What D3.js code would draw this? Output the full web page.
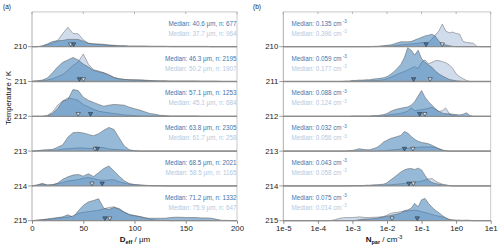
<!DOCTYPE html>
<html><head><meta charset="utf-8">
<script src="https://cdn.jsdelivr.net/npm/d3@7"></script>
<style>body{margin:0;background:#fff} svg{font-family:"Liberation Sans",Arial,sans-serif}</style>
</head><body>
<svg id="c" width="500" height="251"></svg>
<script>
// ---------- data ----------
const temperatures = ["210","211","212","213","214","215"];
const dTicks = [0,50,100,150,200];
const nTicks = [1e-5,1e-4,1e-3,1e-2,1e-1,1e0,1e1];
const nTickLabels = ["1e-5","1e-4","1e-3","1e-2","1e-1","1e0","1e1"];
// D_eff grid (µm), step 5
const dGrid = [0,5,10,15,20,25,30,35,40,45,50,55,60,65,70,75,80,85,90,95,100,105,110,115,120,125,130,135,140,145,150,155,160,165,170,175,180,185,190,195,200];
// N_par grid exponents (log10 cm^-3), step 0.1
const nExp = d3.range(61).map(i => -5 + i / 10);

const dMedDark  = [40.6,46.3,57.1,63.8,68.5,71.2];
const dNDark    = [677,2195,1253,2305,2021,1332];
const dMedLight = [37.7,50.2,45.1,61.7,58.5,75.9];
const dNLight   = [964,1907,684,258,1165,647];
const nMedDark  = [0.135,0.059,0.088,0.032,0.043,0.075];
const nMedLight = [0.396,0.177,0.124,0.056,0.058,0.014];

// densities in % of row height, D_eff panel
const dDark210 = [0,0,2,8,15,17,18,21,21,21, 16,10,8,8,7,5,4,3,3,2, 2,2,2,1,1,1,1,1,1,1, 1,1,1,1,1,0,0,0,0,0, 0];
const dLight210= [0,0,2,6,10,18,38,56,38,37, 20,10,8,6,5,4,3,2,2,1, 1,1,1,1,1,1,1,0,0,0, 0,0,0,0,0,0,0,0,0,0, 0];
const dDark211 = [1,2,4,10,25,42,55,62,69,62, 50,42,32,28,25,18,11,8,6,5, 5,5,4,3,2,2,2,1,1,1, 1,1,1,1,1,1,1,0,0,0, 0];
const dLight211= [0,1,2,4,8,14,20,32,46,56, 79,50,34,30,25,20,12,8,6,5, 4,3,3,2,2,1,1,1,1,1, 1,1,1,0,0,0,0,0,0,0, 0];
const dDark212 = [0,0,0,1,8,22,44,48,77,74, 55,46,40,34,29,32,34,33,32,26, 22,18,13,8,6,3,2,1,1,1, 1,1,1,0,0,0,0,0,0,0, 0];
const dLight212= [0,0,0,3,12,32,44,53,50,46, 34,27,20,15,12,10,8,6,4,3, 2,1,1,1,1,0,0,0,0,0, 0,0,0,0,0,0,0,0,0,0, 0];
const dDark213 = [0,1,2,3,5,11,18,40,53,54, 52,48,44,50,60,68,62,38,15,4, 1,0,0,0,0,0,0,0,0,0, 0,0,0,0,0,0,0,0,0,0, 0];
const dLight213= [0,1,3,4,2,3,6,7,8,9, 9,8,7,10,10,6,5,4,3,2, 1,0,0,0,0,0,0,0,0,0, 0,0,0,0,0,0,0,0,0,0, 0];
const dDark214 = [0,2,6,2,3,8,19,26,31,33, 28,35,27,38,50,57,43,28,15,7, 4,3,2,1,1,1,0,0,0,0, 0,0,0,0,0,0,0,0,0,0, 0];
const dLight214= [0,3,7,3,4,6,10,14,16,18, 22,24,21,17,16,17,18,12,8,5, 3,2,1,1,0,0,0,0,0,0, 0,0,0,0,0,0,0,0,0,0, 0];
const dDark215 = [0,1,3,5,7,9,11,17,10,28, 44,54,58,63,36,32,38,35,25,18, 15,12,8,7,7,7,7,9,10,10, 9,9,9,8,8,7,4,1,1,0, 0];
const dLight215= [0,2,3,4,5,7,9,10,14,21, 24,26,28,30,34,38,40,32,24,17, 14,12,9,4,2,1,1,0,0,0, 0,0,0,0,0,0,0,0,0,0, 0];

// densities in % of row height, N_par panel (exponent -5 .. 1, step 0.1)
const nDark210 = [0,0,0,0,0,0,0,0,0,0, 0,0,0,0,0,0,0,0,0,0, 0,0,0,0,0,0,1,1,2,3, 4,5,8,11,14,14,14,15,19,23, 27,31,33,36,30,16,8,5,3,1, 0,0,0,0,0,0,0,0,0,0, 0];
const nLight210= [0,0,0,0,0,0,0,0,0,0, 0,0,0,0,0,0,0,0,0,0, 0,0,0,0,0,0,0,0,1,1, 2,2,3,4,5,6,7,8,9,10, 12,12,13,22,34,45,65,45,40,42, 38,36,15,12,11,10,1,0,0,0, 0];
const nDark211 = [0,0,0,0,0,0,0,0,0,0, 0,0,0,0,0,0,0,0,1,1, 3,3,4,4,5,5,7,8,9,11, 14,20,28,38,49,68,97,90,76,90, 66,55,48,41,30,22,16,11,6,4, 2,1,0,0,0,0,0,0,0,0, 0];
const nLight211= [0,0,0,0,0,0,0,0,0,0, 0,0,0,0,0,0,0,0,0,0, 1,1,1,1,2,2,3,3,4,5, 8,12,16,21,25,29,33,38,43,37, 55,62,51,55,60,60,57,54,48,38, 22,14,8,3,0,0,0,0,0,0, 0];
const nDark212 = [0,0,0,0,0,0,0,0,0,0, 0,0,0,0,0,0,0,0,0,0, 1,1,1,1,1,1,2,2,3,5, 8,14,18,21,23,25,27,32,42,58, 74,55,42,32,22,14,9,7,7,6, 5,4,6,10,2,0,0,0,0,0, 0];
const nLight212= [0,0,0,0,0,0,0,0,0,0, 0,0,0,0,0,0,0,0,0,0, 0,0,0,0,0,0,0,0,1,1, 3,5,6,7,9,11,15,24,16,18, 19,21,23,26,20,14,16,24,8,3, 1,0,0,0,0,0,0,0,0,0, 0];
const nDark213 = [0,0,0,0,0,0,0,0,0,0, 0,0,0,0,0,0,0,0,0,1, 2,4,7,5,4,4,7,10,17,26, 31,36,39,42,45,56,52,42,34,28, 25,23,21,17,12,7,3,1,0,0, 0,0,0,0,0,0,0,0,0,0, 0];
const nLight213= [0,0,0,0,0,0,0,0,0,0, 0,0,0,0,0,0,0,0,0,0, 0,0,0,0,0,0,0,0,1,1, 2,3,4,5,6,7,8,9,10,11, 12,12,12,12,10,7,3,1,0,0, 0,0,0,0,0,0,0,0,0,0, 0];
const nDark214 = [0,0,0,0,0,0,0,0,0,0, 0,0,0,0,0,0,0,0,0,0, 1,1,1,1,2,2,3,3,4,5, 9,17,24,32,40,46,49,50,47,51, 46,30,16,10,7,5,3,2,1,0, 0,0,0,0,0,0,0,0,0,0, 0];
const nLight214= [0,0,0,0,0,0,0,0,0,0, 0,0,0,0,0,0,0,0,0,0, 0,0,0,0,1,1,1,2,2,2, 3,3,4,5,6,7,8,9,11,12, 14,17,20,21,14,9,5,3,1,0, 0,0,0,0,0,0,0,0,0,0, 0];
const nDark215 = [0,0,0,0,0,0,0,0,0,0, 0,0,0,0,0,0,0,0,0,0, 0,1,3,4,5,5,6,7,9,11, 13,15,17,19,22,29,31,36,50,40, 60,64,50,39,30,23,15,8,3,1, 0,0,0,0,0,0,0,0,0,0, 0];
const nLight215= [0,0,0,0,0,0,0,0,0,0, 0,0,0,0,1,3,6,8,9,9, 9,10,11,10,9,9,10,10,11,12, 16,21,23,24,26,27,28,29,30,29, 26,24,21,18,15,13,11,8,4,3, 2,2,1,2,1,0,0,0,0,0, 0];

const dDark  = [dDark210,dDark211,dDark212,dDark213,dDark214,dDark215];
const dLight = [dLight210,dLight211,dLight212,dLight213,dLight214,dLight215];
const nDark  = [nDark210,nDark211,nDark212,nDark213,nDark214,nDark215];
const nLight = [nLight210,nLight211,nLight212,nLight213,nLight214,nLight215];
const nGrid = nExp.map(e => Math.pow(10, e));

// ---------- drawing ----------
const svg = d3.select("#c");
const topY = 11.9, rowH = 34.8;
const baseY = k => topY + rowH * (k + 1);
const yS = d3.scaleLinear().domain([0, 100]).range([0, rowH]);

const darkFill = "rgb(45,115,175)", lightFill = "rgb(205,218,235)";
const darkText = "#3f74ab", lightText = "#b3c8df";

const panels = [
  {x: d3.scaleLinear().domain([0, 200]).range([32, 237]), grid: dGrid, dark: dDark, light: dLight,
   ticks: dTicks, fmt: d => String(d), label: "(a)", lx: 3},
  {x: d3.scaleLog().domain([1e-5, 10]).range([283.3, 490.7]), grid: nGrid, dark: nDark, light: nLight,
   ticks: nTicks, fmt: (d, i) => nTickLabels[i], label: "(b)", lx: 253}
];

panels.forEach((p, pi) => {
  const g = svg.append("g");
  const [x0, x1] = p.x.range();
  // frame
  g.append("line").attr("x1", x0).attr("x2", x1).attr("y1", topY).attr("y2", topY).attr("stroke", "#bbb").attr("stroke-width", 0.8);
  g.append("line").attr("x1", x1).attr("x2", x1).attr("y1", topY).attr("y2", baseY(5)).attr("stroke", "#bbb").attr("stroke-width", 0.8);
  g.append("line").attr("x1", x0).attr("x2", x0).attr("y1", topY).attr("y2", baseY(5)).attr("stroke", "#999").attr("stroke-width", 0.8);
  // top ticks
  p.ticks.forEach(t => g.append("line").attr("x1", p.x(t)).attr("x2", p.x(t)).attr("y1", topY).attr("y2", topY + 2.2).attr("stroke", "#999").attr("stroke-width", 0.7));

  temperatures.forEach((T, k) => {
    const b = baseY(k);
    const area = d3.area().x((d, i) => p.x(p.grid[i])).y0(b).y1(d => b - yS(d));
    const line = d3.line().x((d, i) => p.x(p.grid[i])).y(d => b - yS(d));
    g.append("path").attr("d", area(p.light[k])).attr("fill", lightFill).attr("fill-opacity", 0.95);
    g.append("path").attr("d", line(p.light[k])).attr("fill", "none").attr("stroke", "#666").attr("stroke-width", 0.5);
    g.append("path").attr("d", area(p.dark[k])).attr("fill", darkFill).attr("fill-opacity", 0.5);
    g.append("path").attr("d", line(p.dark[k])).attr("fill", "none").attr("stroke", "#555").attr("stroke-width", 0.5);
    // baseline
    g.append("line").attr("x1", x0).attr("x2", x1).attr("y1", b).attr("y2", b).attr("stroke", "#8c8c8c").attr("stroke-width", 1.3);
    // y tick + label
    g.append("line").attr("x1", x0 - 4).attr("x2", x0).attr("y1", b).attr("y2", b).attr("stroke", "#888").attr("stroke-width", 0.8);
    g.append("text").attr("x", x0 - 5).attr("y", b).attr("dy", "0.35em").attr("text-anchor", "end")
      .attr("font-size", 7.8).attr("fill", "#222").text(T);
    // median markers
    const md = pi === 0 ? dMedDark[k] : nMedDark[k];
    const ml = pi === 0 ? dMedLight[k] : nMedLight[k];
    const tri = d3.symbol(d3.symbolTriangle, 8);
    [[ml, "rgb(214,225,238)"], [md, "rgb(70,120,170)"]].forEach(([m, f]) => {
      g.append("path").attr("d", tri()).attr("transform", `translate(${p.x(m)},${b - 2.6}) rotate(180)`)
        .attr("fill", f).attr("stroke", "#333").attr("stroke-width", 0.6);
    });
    // median text
    if (pi === 0) {
      g.append("text").attr("x", 236.5).attr("y", b - 21).attr("text-anchor", "end").attr("font-size", 6.3)
        .attr("fill", darkText).text(`Median: ${dMedDark[k].toFixed(1)}  \u03bcm, n: ${dNDark[k]}`);
      g.append("text").attr("x", 236.5).attr("y", b - 11).attr("text-anchor", "end").attr("font-size", 6.3)
        .attr("fill", lightText).text(`Median: ${dMedLight[k].toFixed(1)}  \u03bcm, n: ${dNLight[k]}`);
    } else {
      [[nMedDark[k], darkText, b - 21], [nMedLight[k], lightText, b - 11]].forEach(([m, c, y]) => {
        const t = g.append("text").attr("x", 291.5).attr("y", y).attr("font-size", 6.3).attr("fill", c);
        t.append("tspan").text(`Median: ${m.toFixed(3)} cm`);
        t.append("tspan").attr("dy", -2.6).attr("font-size", 4.6).text(" -3");
      });
    }
  });

  // bottom axis
  const ax = g.append("g").attr("transform", `translate(0,${baseY(5)})`)
    .call(d3.axisBottom(p.x).tickValues(p.ticks).tickFormat(p.fmt).tickSize(3).tickPadding(2));
  ax.select(".domain").remove();
  ax.selectAll(".tick line").attr("stroke", "#888");
  ax.selectAll(".tick text").attr("font-size", 7.8).attr("fill", "#222").attr("font-family", "Liberation Sans, Arial, sans-serif");

  // panel label
  svg.append("text").attr("x", p.lx).attr("y", 8.5).attr("font-size", 6.5).attr("fill", "#222").text(p.label);
});

// axis titles
const t1 = svg.append("text").attr("x", 135).attr("y", 241.5).attr("text-anchor", "middle").attr("font-size", 8).attr("fill", "#111");
t1.append("tspan").attr("font-weight", "bold").text("D");
t1.append("tspan").attr("font-weight", "bold").attr("font-size", 5.5).attr("dy", 2).text("eff");
t1.append("tspan").attr("dy", -2).text("  / \u03bcm");

const t2 = svg.append("text").attr("x", 384).attr("y", 242).attr("text-anchor", "middle").attr("font-size", 8).attr("fill", "#111");
t2.append("tspan").attr("font-weight", "bold").text("N");
t2.append("tspan").attr("font-weight", "bold").attr("font-size", 5.5).attr("dy", 2).text("par");
t2.append("tspan").attr("dy", -2).text("  / cm");
t2.append("tspan").attr("dy", -3).attr("font-size", 5.5).text("-3");

svg.append("text").attr("transform", "translate(11,98) rotate(-90)").attr("text-anchor", "middle")
  .attr("font-size", 7.6).attr("fill", "#111").text("Temperature  / K");
</script>
</body></html>
